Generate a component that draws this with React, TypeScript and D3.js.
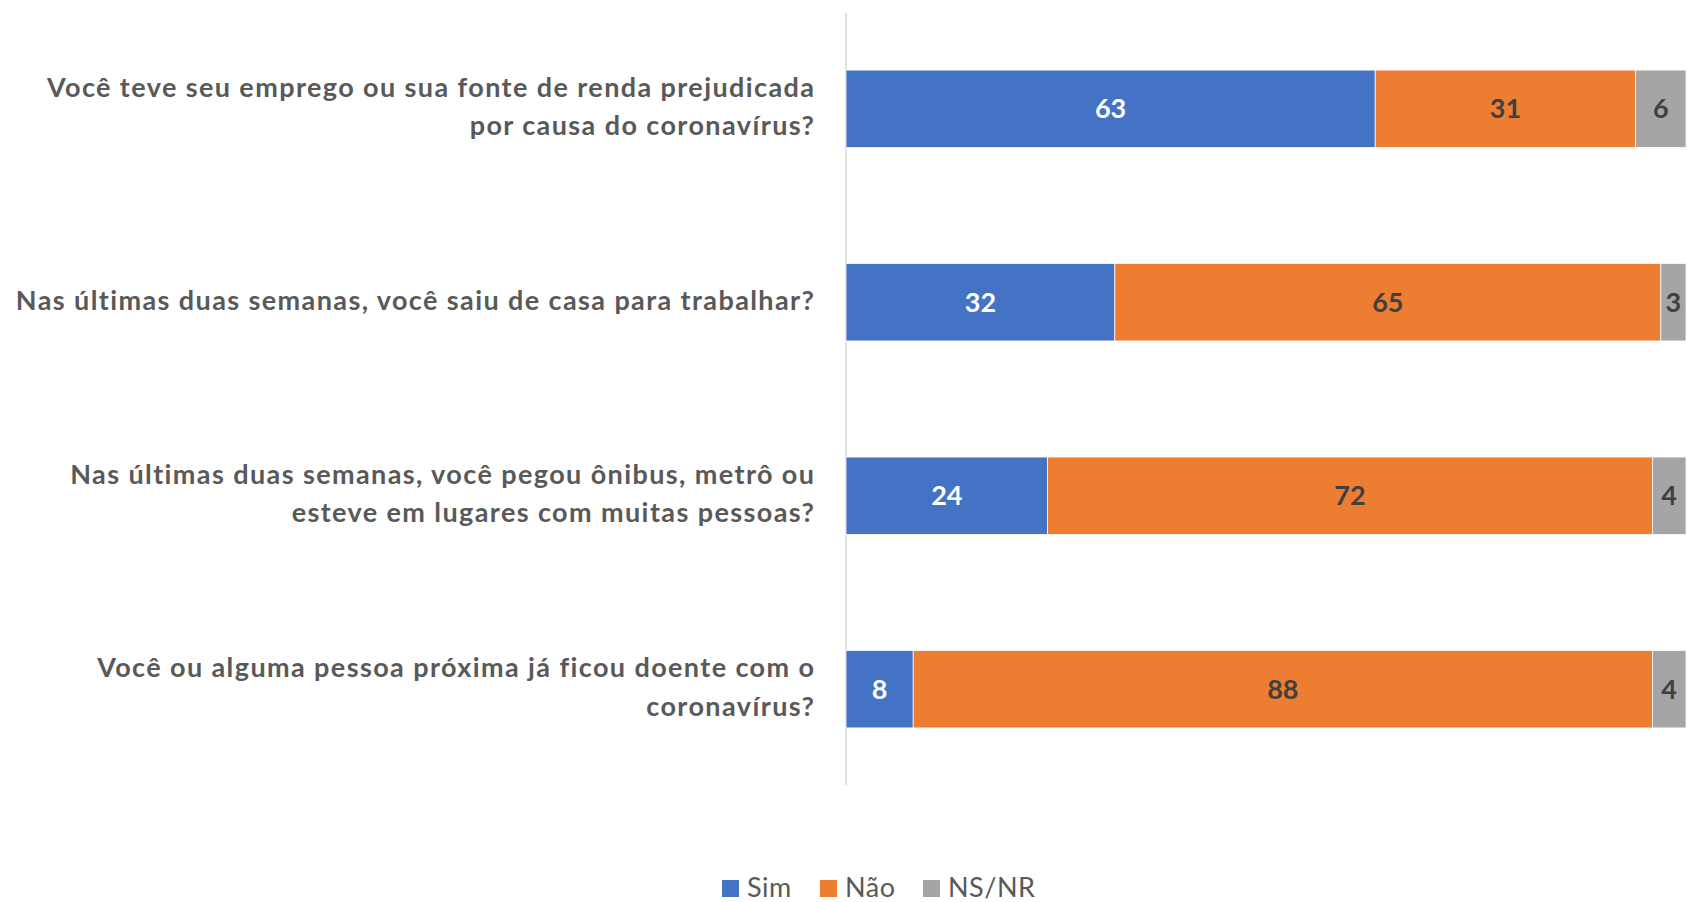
import React from 'react';
import * as d3 from 'd3';

// questions, each already split into the lines shown on the chart
const questions = [
  ['Você teve seu emprego ou sua fonte de renda prejudicada', 'por causa do coronavírus?'],
  ['Nas últimas duas semanas, você saiu de casa para trabalhar?'],
  ['Nas últimas duas semanas, você pegou ônibus, metrô ou', 'esteve em lugares com muitas pessoas?'],
  ['Você ou alguma pessoa próxima já ficou doente com o', 'coronavírus?'],
];
const seriesNames = ['Sim', 'Não', 'NS/NR'];
const simValues = [63, 32, 24, 8];
const naoValues = [31, 65, 72, 88];
const nsnrValues = [6, 3, 4, 4];

const colors = ['#4472C4', '#ED7D31', '#A5A5A5'];
const labelColors = ['#ffffff', '#404040', '#404040'];

const width = 1687;
const height = 902;
const font = 'Lato, "Open Sans", sans-serif';

export default function App() {
  const keys = questions.map((_, i) => 'q' + i);

  const rows = keys.map((k, i) => ({
    key: k,
    values: [simValues[i], naoValues[i], nsnrValues[i]],
  }));

  const stacked = d3
    .stack<any>()
    .keys([0, 1, 2] as any)
    .value((d: any, key: any) => d.values[key])(rows);

  const x = d3.scaleLinear().domain([0, 100]).range([846, 1686]);
  const y = d3
    .scaleBand()
    .domain(keys)
    .range([13, 785])
    .paddingInner(0.6)
    .paddingOuter(0.295);

  const lineHeight = 38.5;
  const spacing = 1.4;

  // legend layout
  const legendX = [722, 820, 923];

  return (
    <svg
      width={width}
      height={height}
      style={{ position: 'absolute', left: 0, top: 0, background: '#fff' }}
    >
      <line x1={x(0)} x2={x(0)} y1={13} y2={785} stroke="#d9d9d9" strokeWidth={1.5} />

      {stacked.map((layer, si) =>
        layer.map((seg, i) => {
          const x0 = x(seg[0]);
          const x1 = x(seg[1]);
          const yy = y(keys[i])!;
          const bw = y.bandwidth();
          return (
            <g key={si + '-' + i}>
              <rect
                x={x0}
                y={yy}
                width={x1 - x0}
                height={bw}
                fill={colors[si]}
                stroke="#fff"
                strokeWidth={0.75}
              />
              <text
                x={(x0 + x1) / 2}
                y={yy + bw / 2}
                dy="0.35em"
                textAnchor="middle"
                fontFamily={font}
                fontWeight="bold"
                fontSize={27}
                fill={labelColors[si]}
              >
                {rows[i].values[si]}
              </text>
            </g>
          );
        })
      )}

      {questions.map((lines, i) => {
        const cy = y(keys[i])! + y.bandwidth() / 2 - 2;
        const top = cy - ((lines.length - 1) * lineHeight) / 2;
        return (
          <text
            key={'q' + i}
            textAnchor="end"
            fontFamily={font}
            fontWeight="bold"
            fontSize={27}
            letterSpacing={spacing}
            fill="#595959"
          >
            {lines.map((ln, j) => (
              <tspan key={j} x={814 + spacing} y={top + j * lineHeight} dy="0.35em">
                {ln}
              </tspan>
            ))}
          </text>
        );
      })}

      {seriesNames.map((name, i) => (
        <g key={name} transform={`translate(${legendX[i]},888)`}>
          <rect x={0} y={-8} width={17} height={17} fill={colors[i]} />
          <text
            x={25}
            y={0}
            dy="0.35em"
            fontFamily={font}
            fontSize={27}
            letterSpacing={0.5}
            fill="#595959"
          >
            {name}
          </text>
        </g>
      ))}
    </svg>
  );
}
